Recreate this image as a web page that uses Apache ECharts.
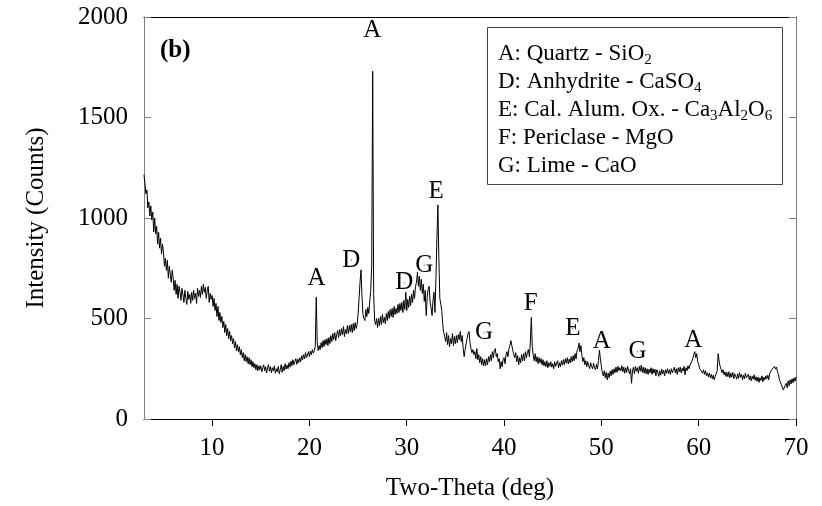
<!DOCTYPE html>
<html>
<head>
<meta charset="utf-8">
<script src="https://cdn.jsdelivr.net/npm/echarts@6/dist/echarts.min.js"></script>
<style>
html,body{margin:0;padding:0;background:#fff;}
#chart{width:822px;height:506px;}
</style>
</head>
<body>
<div id="chart"></div>
<script>
// ---- data ----
const twoThetaStart = 3.0;
const twoThetaStep = 0.1;
const intensity = [
1215,1170,1120,1140,1050,1080,1010,1060,990,1030,
930,1000,920,960,870,930,850,900,820,870,
830,760,800,740,790,700,760,720,680,740,
700,640,690,620,670,600,660,630,590,650,
620,580,640,600,570,635,595,620,575,630,
590,640,600,625,575,650,610,640,605,660,
620,670,630,655,600,640,660,580,625,595,
615,560,600,540,575,510,560,490,530,480,
510,455,485,430,470,415,450,400,435,390,
415,375,400,355,385,340,370,335,360,320,
345,305,330,290,320,285,310,275,305,270,
295,260,285,255,275,245,270,240,265,245,
265,235,255,270,240,260,230,255,270,238,
260,230,255,240,265,228,250,235,262,225,
245,270,232,262,240,275,248,268,250,280,
258,288,265,295,270,285,300,272,298,280,
305,285,315,295,320,300,330,305,318,335,
310,338,320,345,328,340,360,606,385,340,
365,345,380,355,390,360,395,370,400,365,
405,375,415,385,425,395,430,390,420,440,
405,445,415,450,420,460,410,445,425,465,
425,465,435,470,430,475,440,480,450,470,
520,600,680,742,610,520,500,490,545,510,
555,525,585,640,760,1730,620,490,470,500,
455,500,465,510,470,520,480,505,475,525,
490,535,500,545,510,550,505,560,520,550,
525,570,530,575,540,580,530,590,545,630,
540,595,555,610,565,620,580,640,600,660,
680,730,660,710,640,695,625,670,585,640,
515,605,645,660,580,555,515,590,630,530,
700,900,1065,800,600,570,540,470,430,410,
385,430,370,415,360,400,375,425,365,410,
375,415,380,420,395,435,385,415,350,310,
345,375,400,425,435,380,350,330,345,320,
335,300,350,295,320,280,310,270,300,265,
295,265,300,270,310,285,320,290,335,305,
340,350,310,325,285,300,250,285,260,295,
305,275,320,335,310,350,365,390,365,340,
345,305,330,285,315,270,305,280,320,290,
325,290,335,305,330,345,310,380,505,360,
315,290,325,285,310,275,305,280,300,270,
295,265,285,260,290,255,280,262,285,258,
275,250,285,262,270,290,255,280,260,290,
268,295,270,300,278,305,275,298,280,310,
285,315,290,325,300,340,350,378,335,365,
315,285,305,270,290,260,285,265,250,280,
262,250,278,255,245,272,250,290,342,300,
262,230,215,240,205,232,195,228,205,238,
215,245,222,250,230,258,232,262,240,255,
240,265,235,258,228,255,232,262,240,225,
250,178,240,258,225,262,238,255,228,262,
238,268,232,258,228,255,225,250,222,248,
230,255,222,250,228,248,215,245,232,212,
240,218,248,225,242,215,245,228,250,225,
245,222,250,230,242,258,230,250,222,255,
235,258,230,252,238,262,220,255,240,265,
250,268,262,288,300,322,335,305,325,285,
272,250,248,255,228,245,222,240,215,230,
210,228,205,222,200,218,195,212,220,240,
325,288,262,248,230,245,220,235,212,232,
210,235,205,228,208,232,200,225,212,198,
225,202,230,208,222,195,218,200,228,205,
200,222,195,215,190,212,198,220,192,210,
188,208,182,205,192,215,185,208,195,215,
200,218,195,225,222,245,250,242,262,248,
258,235,222,195,188,170,162,145,138,168,
178,155,190,165,195,175,200,180,205,188,
210
];
const xTicks = [10, 20, 30, 40, 50, 60, 70];
const peakText = ['A','D','A','D','G','E','G','F','E','A','G','A'];
const peakX    = [20.73,24.31,26.46,29.74,31.79,33.02,37.94,42.75,47.06,50.03,53.72,59.45];
const peakY    = [697,791,1932,677,766,1133,429,573,449,384,335,389];
const legendLines = [
  ['A: Quartz - SiO', '2'],
  ['D: Anhydrite - CaSO', '4'],
  ['E: Cal. Alum. Ox. - Ca', '3', 'Al', '2', 'O', '6'],
  ['F: Periclase - MgO'],
  ['G: Lime - CaO']
];
const panelLabel = '(b)';
const xTitle = 'Two-Theta (deg)';
const yTitle = 'Intensity (Counts)';

// ---- build ----
const FONT = '"Liberation Serif", "Times New Roman", serif';
const lineData = intensity.map((v, i) => [+(twoThetaStart + i * twoThetaStep).toFixed(1), v]);
const peakData = peakX.map((x, i) => [x, peakY[i]]);
const legendRich = legendLines.map(parts =>
  parts.map((p, j) => (j % 2 === 0 ? '{n|' + p + '}' : '{s|' + p + '}')).join('')
).join('\n');

const chart = echarts.init(document.getElementById('chart'), null, {renderer: 'canvas'});
chart.setOption({
  animation: false,
  backgroundColor: '#fff',
  grid: {left: 144, right: 26, top: 17, bottom: 86},
  xAxis: [{
    type: 'value', min: 3, max: 70,
    name: xTitle, nameLocation: 'middle', nameGap: 57,
    nameTextStyle: {fontFamily: FONT, fontSize: 25, color: '#000'},
    axisLine: {show: true, onZero: false, lineStyle: {color: '#000', width: 1}},
    axisTick: {show: true, inside: false, length: 7, customValues: xTicks, lineStyle: {color: '#000'}},
    axisLabel: {show: true, margin: 17, customValues: xTicks, fontFamily: FONT, fontSize: 25, color: '#000',
      formatter: v => String(v)},
    splitLine: {show: false}
  }, {
    type: 'value', min: 3, max: 70, position: 'top',
    axisLine: {show: true, onZero: false, lineStyle: {color: '#000', width: 1}},
    axisTick: {show: false}, axisLabel: {show: false}, splitLine: {show: false}
  }],
  yAxis: [{
    type: 'value', min: 0, max: 2000, interval: 500,
    name: yTitle, nameLocation: 'middle', nameGap: 95, nameRotate: 90,
    nameTextStyle: {fontFamily: FONT, fontSize: 25, color: '#000'},
    axisLine: {show: true, onZero: false, lineStyle: {color: '#808080', width: 1}},
    axisTick: {show: true, inside: true, length: 7, lineStyle: {color: '#808080'}},
    axisLabel: {show: true, margin: 16, fontFamily: FONT, fontSize: 25, color: '#000',
      formatter: v => String(v)},
    splitLine: {show: false}
  }, {
    type: 'value', min: 0, max: 2000, interval: 500, position: 'right',
    axisLine: {show: true, onZero: false, lineStyle: {color: '#808080', width: 1}},
    axisTick: {show: true, inside: true, length: 7, lineStyle: {color: '#808080'}},
    axisLabel: {show: false}, splitLine: {show: false}
  }],
  series: [{
    type: 'line', data: lineData, showSymbol: false, symbol: 'none',
    lineStyle: {color: '#000', width: 1}, sampling: null, silent: true, z: 3
  }, {
    type: 'scatter', data: peakData, symbolSize: 1,
    itemStyle: {color: '#000', opacity: 1, borderWidth: 0}, silent: true,
    label: {
      show: true, position: 'inside', opacity: 1,
      formatter: p => peakText[p.dataIndex],
      fontFamily: FONT, fontSize: 25, color: '#000',
      textBorderWidth: 0, textBorderColor: 'transparent'
    },
    labelLayout: {hideOverlap: false}, z: 4
  }],
  graphic: [{
    type: 'text', left: 160, top: 38,
    style: {text: panelLabel, fontFamily: FONT, fontSize: 25, fontWeight: 'bold', fill: '#000'}
  }, {
    type: 'rect', left: 487, top: 27, z: 10,
    shape: {width: 295, height: 157},
    style: {fill: '#fff', stroke: '#444', lineWidth: 1}
  }, {
    type: 'text', left: 498, top: 42, z: 11,
    style: {
      text: legendRich,
      rich: {
        n: {fontFamily: FONT, fontSize: 23, lineHeight: 28, verticalAlign: 'middle', fill: '#000'},
        s: {fontFamily: FONT, fontSize: 15, lineHeight: 15, verticalAlign: 'bottom', fill: '#000'}
      }
    }
  }]
});
</script>
</body>
</html>
